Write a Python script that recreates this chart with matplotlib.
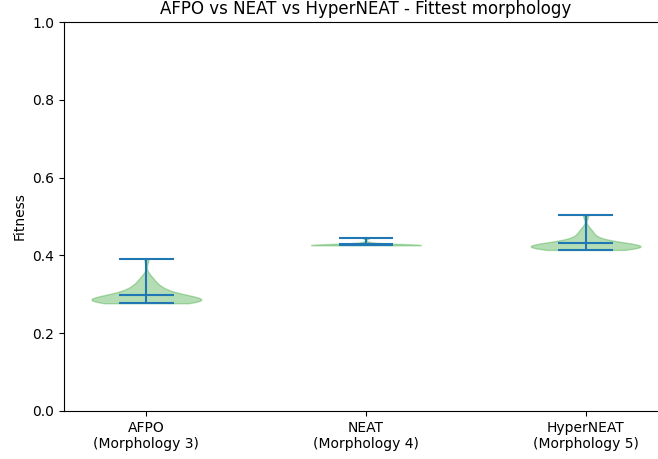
#!/usr/bin/env python3

import matplotlib.pyplot as plt
import numpy as np

# fitness samples of the fittest morphology per run
afpo = [0.277, 0.278, 0.279, 0.279, 0.280, 0.281, 0.281, 0.282, 0.282, 0.283,
        0.283, 0.284, 0.284, 0.285, 0.285, 0.286, 0.286, 0.287, 0.288, 0.289,
        0.290, 0.291, 0.292, 0.293, 0.294, 0.296, 0.298, 0.300, 0.302, 0.305,
        0.308, 0.310, 0.313, 0.316, 0.320, 0.325, 0.331, 0.338, 0.346, 0.392]
neat = [0.426, 0.426, 0.426, 0.426, 0.426, 0.426, 0.426, 0.426, 0.426, 0.427,
        0.427, 0.427, 0.427, 0.427, 0.428, 0.428, 0.429, 0.430, 0.433, 0.445]
hyperneat = [0.414, 0.415, 0.416, 0.417, 0.418, 0.419, 0.420, 0.420, 0.421,
             0.421, 0.422, 0.422, 0.423, 0.423, 0.424, 0.424, 0.425, 0.426,
             0.427, 0.428, 0.429, 0.430, 0.432, 0.434, 0.437, 0.441, 0.446,
             0.452, 0.460, 0.468, 0.503]
labels = ["AFPO\n(Morphology 3)", "NEAT\n(Morphology 4)", "HyperNEAT\n(Morphology 5)"]

fig = plt.figure(figsize=(6.58, 4.59), dpi=100)
ax = fig.add_axes([64/658, 48/459, 604/658, 389/459])

parts = ax.violinplot([afpo, neat, hyperneat], showmeans=True)
for body in parts['bodies']:
    body.set_facecolor('tab:green')
    body.set_edgecolor('tab:green')
    body.set_alpha(0.35)

ax.set_ylim(0, 1)
ax.set_xticks([1, 2, 3])
ax.set_xticklabels(labels)
ax.set_ylabel("Fitness")
ax.set_title("AFPO vs NEAT vs HyperNEAT - Fittest morphology")

plt.savefig("out.png", dpi=100)
